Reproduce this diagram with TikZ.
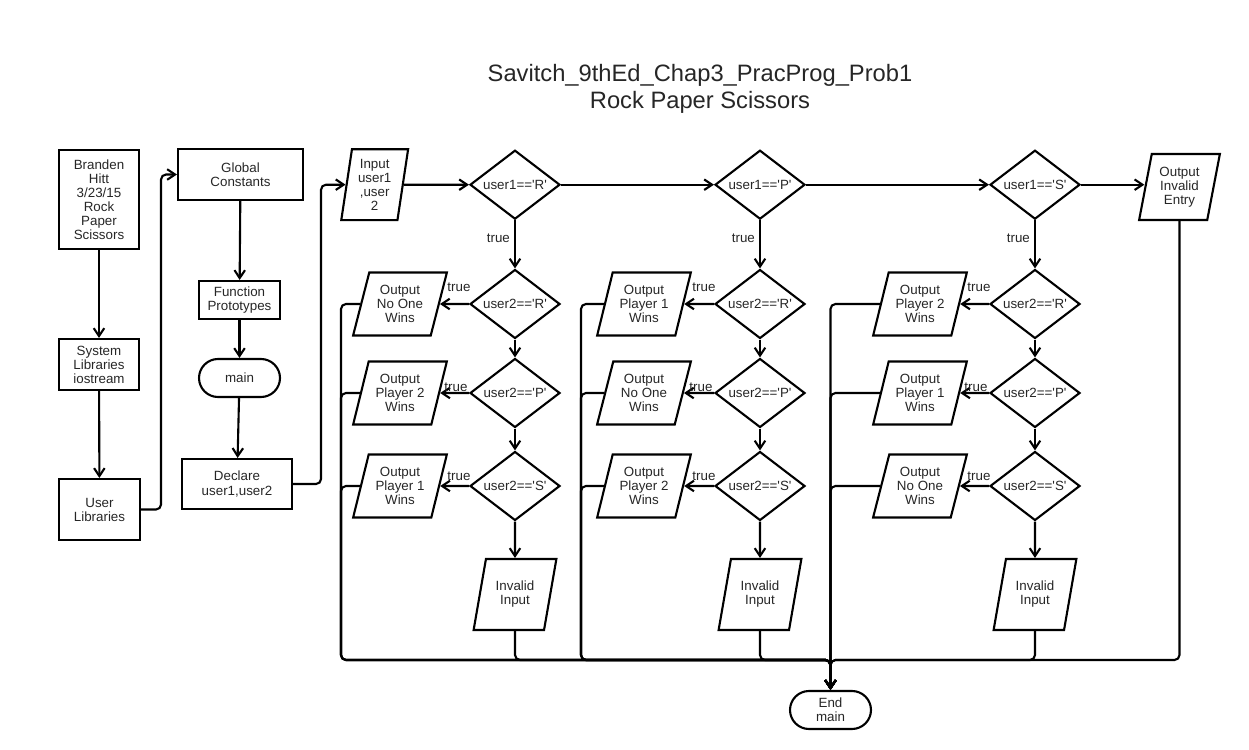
\documentclass[tikz,border=0pt]{standalone}
\usepackage{fontspec}
\newfontfamily\chartfont{Liberation Sans}
\usetikzlibrary{calc,positioning,shapes.geometric,arrows.meta}

\tikzset{
    box/.style={draw, line width=1.2pt, align=center, inner sep=1pt, text=black!85,
        font=\chartfont\fontsize{7.6}{8}\selectfont},
    term/.style={box, rounded corners=0.38cm, minimum width=1.62cm, minimum height=0.76cm},
    io/.style={box, trapezium, trapezium stretches, trapezium left angle=#1,
        trapezium right angle={180-#1}},
    outbox/.style={io=72.4, minimum width=1.88cm, minimum height=1.26cm},
    badbox/.style={io=73.4, minimum width=1.66cm, minimum height=1.42cm},
    test/.style={box, diamond, aspect=1.3, inner sep=0pt, minimum width=1.8cm, minimum height=1.38cm},
    flow/.style={line width=1.2pt, -{Straight Barb[length=4.5pt,width=6pt]}},
    back/.style={flow, rounded corners=0.1cm},
    tru/.style={inner sep=1pt, text=black!85, font=\chartfont\fontsize{7.6}{8}\selectfont},
}

\begin{document}
\begin{tikzpicture}[x=0.02cm, y=-0.02cm]
        \useasboundingbox (0,0) rectangle (1249,750);

        \node (title) [align=center, text=black!85, font=\chartfont\fontsize{13.5}{15.4}\selectfont]
            at (700,88.5) {Savitch\_9thEd\_Chap3\_PracProg\_Prob1\\Rock Paper Scissors};

        % set up
        \node (author) [box, minimum width=1.6cm, minimum height=1.98cm] at (99,199.5)
            {Branden\\Hitt\\3/23/15\\Rock\\Paper\\Scissors};
        \node (syslib) [box, minimum width=1.6cm, minimum height=1.02cm] at (99,364.5)
            {System\\Libraries\\iostream};
        \node (usrlib) [box, minimum width=1.62cm, minimum height=1.22cm] at (99.5,509.5)
            {User\\Libraries};
        \node (globals) [box, minimum width=2.5cm, minimum height=1.02cm] at (240.5,174.5)
            {Global\\Constants};
        \node (protos) [box, minimum width=1.62cm, minimum height=0.76cm] at (239.5,300)
            {Function\\Prototypes};
        \node (main) [term] at (239.5,378) {main};
        \node (decl) [box, minimum width=2.2cm, minimum height=1.0cm] at (237,484)
            {Declare\\user1,user2};
        \node (input) [io=81, minimum width=1.34cm, minimum height=1.42cm] at (374.7,184.7)
            {Input\\user1\\,user\\2};

        \draw [flow] (author) -- (syslib);
        \draw [flow] (syslib) -- (usrlib);
        \draw [back] (usrlib.east) -- ++(20,0) |- (globals.west);
        \draw [flow] (globals) -- (protos);
        \draw [flow] (protos) -- (main);
        \draw [flow] (main) -- (decl);
        \draw [back] (decl.east) -- ++(28,0) |- (input.west);

        % first test row
        \node (u1R) [test] at (515,184.7) {user1=='R'};
        \node (u1P) [test] at (760,184.7) {user1=='P'};
        \node (u1S) [test] at (1035,184.7) {user1=='S'};
        \node (oinv) [io=77.2, minimum width=1.62cm, minimum height=1.32cm] at (1179.5,187)
            {Output\\Invalid\\Entry};

        \draw [flow] (input) -- (u1R);
        \draw [flow] (u1R) -- (u1P);
        \draw [flow] (u1P) -- (u1S);
        \draw [flow] (u1S.east) -- (u1S.east -| oinv.west);

        % user1 == R
        \node (RR) [test] at (515,304) {user2=='R'};
        \node (RP) [test] at (515,393) {user2=='P'};
        \node (RS) [test] at (515,486) {user2=='S'};
        \node (oRR) [outbox] at (400,304) {Output\\No One\\Wins};
        \node (oRP) [outbox] at (400,393) {Output\\Player 2\\Wins};
        \node (oRS) [outbox] at (400,486) {Output\\Player 1\\Wins};
        \node (badR) [badbox] at (515,594.5) {Invalid\\Input};

        % user1 == P
        \node (PR) [test] at (760,304) {user2=='R'};
        \node (PP) [test] at (760,393) {user2=='P'};
        \node (PS) [test] at (760,486) {user2=='S'};
        \node (oPR) [outbox] at (644,304) {Output\\Player 1\\Wins};
        \node (oPP) [outbox] at (644,393) {Output\\No One\\Wins};
        \node (oPS) [outbox] at (644,486) {Output\\Player 2\\Wins};
        \node (badP) [badbox] at (760,594.5) {Invalid\\Input};

        % user1 == S
        \node (SR) [test] at (1035,304) {user2=='R'};
        \node (SP) [test] at (1035,393) {user2=='P'};
        \node (SS) [test] at (1035,486) {user2=='S'};
        \node (oSR) [outbox] at (920,304) {Output\\Player 2\\Wins};
        \node (oSP) [outbox] at (920,393) {Output\\Player 1\\Wins};
        \node (oSS) [outbox] at (920,486) {Output\\No One\\Wins};
        \node (badS) [badbox] at (1035,594.5) {Invalid\\Input};

        \node (endm) [term] at (830.5,710) {End\\main};
        \coordinate (join) at (830.5,660);
        \coordinate (busR) at (341,660);
        \coordinate (busP) at (581,660);

        \draw [flow] (u1R) -- (RR);
        \draw [flow] (RR) -- (RP);
        \draw [flow] (RP) -- (RS);
        \draw [flow] (RS) -- (badR);
        \draw [flow] (RR) -- (oRR);
        \draw [flow] (RP) -- (oRP);
        \draw [flow] (RS) -- (oRS);

        \draw [flow] (u1P) -- (PR);
        \draw [flow] (PR) -- (PP);
        \draw [flow] (PP) -- (PS);
        \draw [flow] (PS) -- (badP);
        \draw [flow] (PR) -- (oPR);
        \draw [flow] (PP) -- (oPP);
        \draw [flow] (PS) -- (oPS);

        \draw [flow] (u1S) -- (SR);
        \draw [flow] (SR) -- (SP);
        \draw [flow] (SP) -- (SS);
        \draw [flow] (SS) -- (badS);
        \draw [flow] (SR) -- (oSR);
        \draw [flow] (SP) -- (oSP);
        \draw [flow] (SS) -- (oSS);

        \node [tru, anchor=east] at ($(u1R.south) + (-3,18)$) {true};
        \node [tru, anchor=east] at ($(u1P.south) + (-3,18)$) {true};
        \node [tru, anchor=east] at ($(u1S.south) + (-3,18)$) {true};
        \node [tru] at ($(RR.west) + (-10,-17)$) {true};
        \node [tru] at ($(RP.west) + (-13,-6)$) {true};
        \node [tru] at ($(RS.west) + (-10,-10)$) {true};
        \node [tru] at ($(PR.west) + (-10,-17)$) {true};
        \node [tru] at ($(PP.west) + (-13,-6)$) {true};
        \node [tru] at ($(PS.west) + (-10,-10)$) {true};
        \node [tru] at ($(SR.west) + (-10,-17)$) {true};
        \node [tru] at ($(SP.west) + (-13,-6)$) {true};
        \node [tru] at ($(SS.west) + (-10,-10)$) {true};

        % everything ends in main
        \draw [back] (oRR.west) -| (busR) -- (join) -- (endm.north);
        \draw [back] (oRP.west) -| (busR) -- (join) -- (endm.north);
        \draw [back] (oRS.west) -| (busR) -- (join) -- (endm.north);
        \draw [back] (oPR.west) -| (busP) -- (join) -- (endm.north);
        \draw [back] (oPP.west) -| (busP) -- (join) -- (endm.north);
        \draw [back] (oPS.west) -| (busP) -- (join) -- (endm.north);
        \draw [back] (oSR.west) -| (join) -- (endm.north);
        \draw [back] (oSP.west) -| (join) -- (endm.north);
        \draw [back] (oSS.west) -| (join) -- (endm.north);
        \draw [back] (badR.south) |- (join) -- (endm.north);
        \draw [back] (badP.south) |- (join) -- (endm.north);
        \draw [back] (badS.south) |- (join) -- (endm.north);
        \draw [back] (oinv.south) |- (join) -- (endm.north);
    \end{tikzpicture}
\end{document}
